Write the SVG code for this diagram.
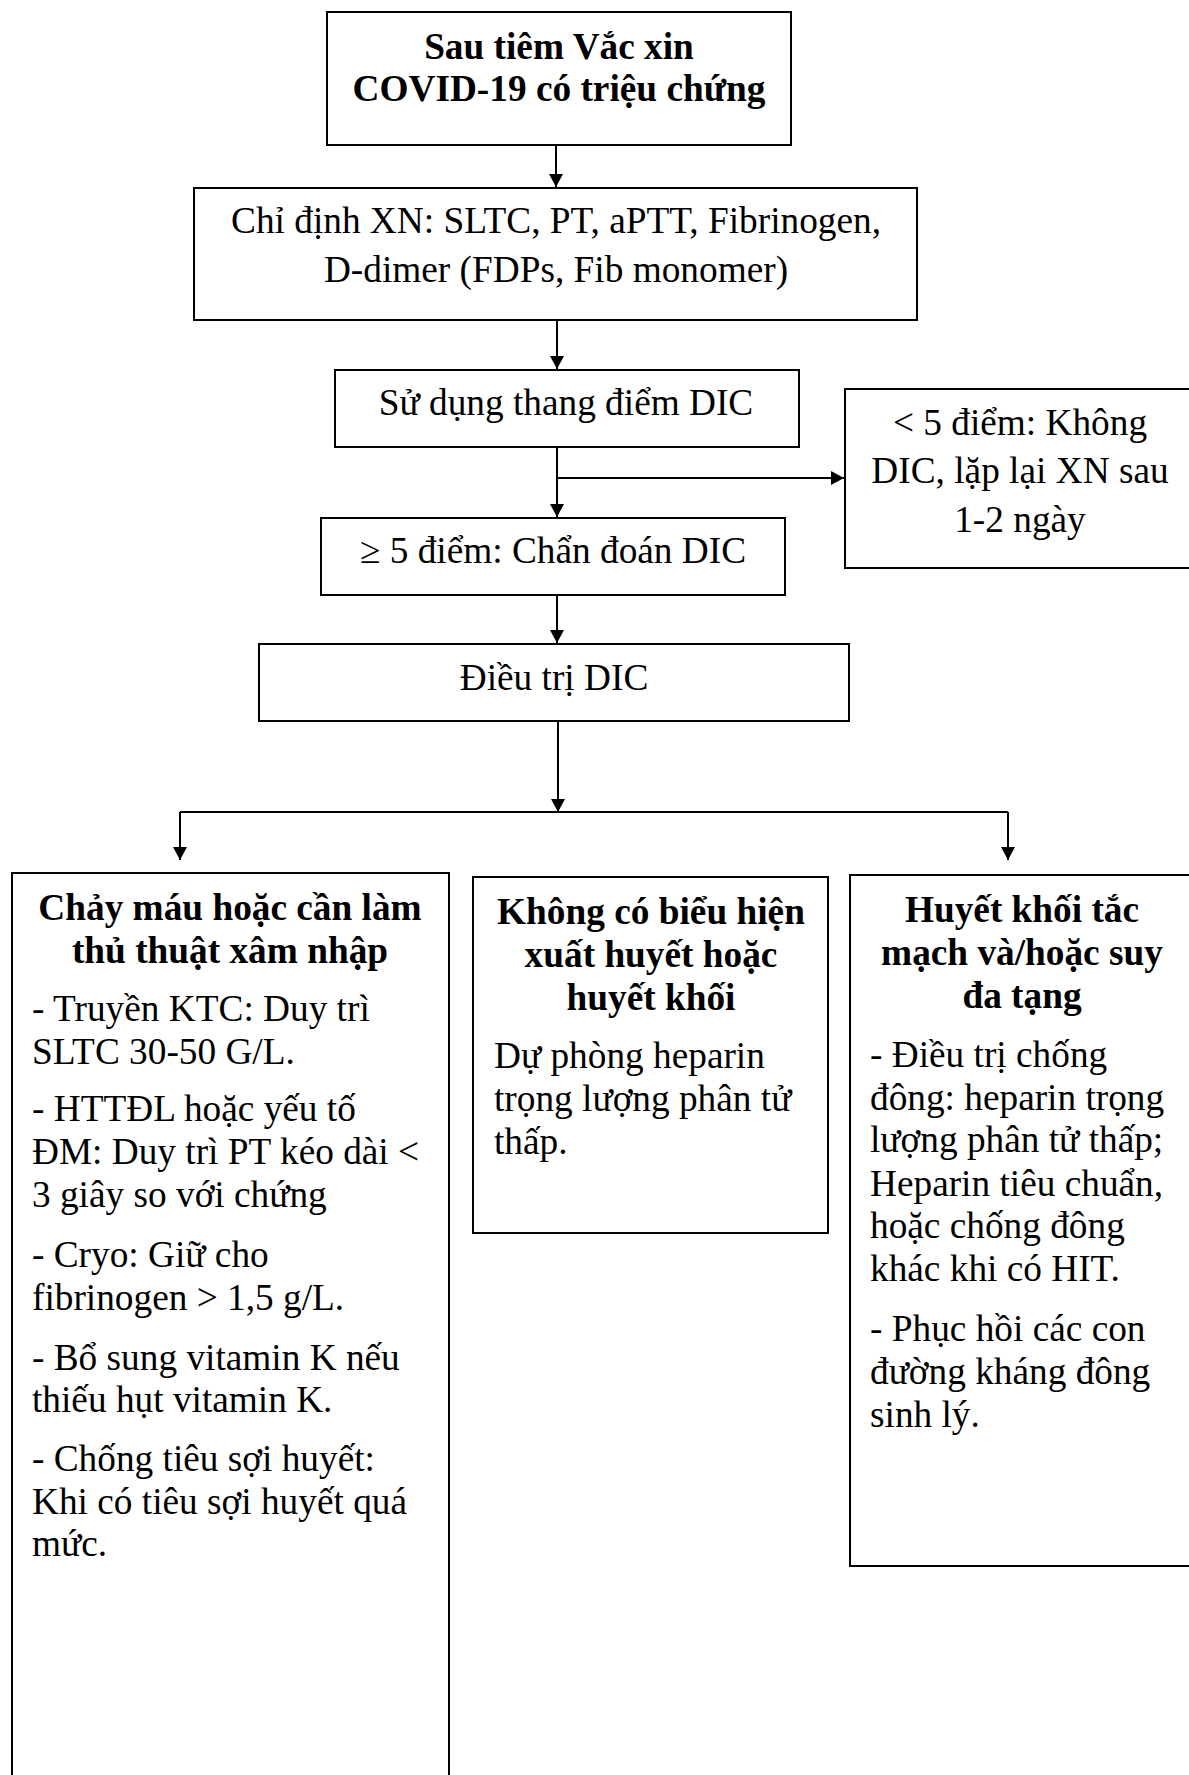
<svg xmlns="http://www.w3.org/2000/svg" width="1189" height="1775" viewBox="0 0 1189 1775">
<style>
.box{fill:#fff;stroke:#000;stroke-width:2}
text{font-family:"Liberation Serif","Times New Roman",serif;font-size:37.3px;fill:#000}
.b{font-weight:bold}
.c{text-anchor:middle}
.ln{fill:none;stroke:#000;stroke-width:2}
</style>
<defs>
<marker id="ah" markerUnits="userSpaceOnUse" markerWidth="14" markerHeight="14" refX="13" refY="7" orient="auto">
<path d="M0,0 L13,7 L0,14 z" fill="#000"/>
</marker>
</defs>
<rect width="1189" height="1775" fill="#fff"/>
<g id="connectors">
<line class="ln" x1="556" y1="145" x2="556" y2="187" marker-end="url(#ah)"/>
<line class="ln" x1="557" y1="320" x2="557" y2="369" marker-end="url(#ah)"/>
<line class="ln" x1="557" y1="447" x2="557" y2="517" marker-end="url(#ah)"/>
<line class="ln" x1="557" y1="478" x2="844" y2="478" marker-end="url(#ah)"/>
<line class="ln" x1="557" y1="595" x2="557" y2="643" marker-end="url(#ah)"/>
<line class="ln" x1="558" y1="721" x2="558" y2="812" marker-end="url(#ah)"/>
<line class="ln" x1="180" y1="812" x2="1008" y2="812"/>
<line class="ln" x1="180" y1="812" x2="180" y2="860" marker-end="url(#ah)"/>
<line class="ln" x1="1008" y1="812" x2="1008" y2="860" marker-end="url(#ah)"/>
</g>
<g id="n1">
<rect class="box" x="327" y="12" width="464" height="133"/>
<text class="b c" x="559" y="59">Sau tiêm Vắc xin</text>
<text class="b c" x="559" y="101">COVID-19 có triệu chứng</text>
</g>
<g id="n2">
<rect class="box" x="194" y="188" width="723" height="132"/>
<text class="c" x="556" y="233">Chỉ định XN: SLTC, PT, aPTT, Fibrinogen,</text>
<text class="c" x="556" y="282">D-dimer (FDPs, Fib monomer)</text>
</g>
<g id="n3">
<rect class="box" x="335" y="370" width="464" height="77"/>
<text class="c" x="566" y="415">Sử dụng thang điểm DIC</text>
</g>
<g id="n4">
<rect class="box" x="845" y="389" width="355" height="179"/>
<text class="c" x="1020" y="435">&lt; 5 điểm: Không</text>
<text class="c" x="1020" y="483">DIC, lặp lại XN sau</text>
<text class="c" x="1020" y="532">1-2 ngày</text>
</g>
<g id="n5">
<rect class="box" x="321" y="518" width="464" height="77"/>
<text class="c" x="553" y="563">≥ 5 điểm: Chẩn đoán DIC</text>
</g>
<g id="n6">
<rect class="box" x="259" y="644" width="590" height="77"/>
<text class="c" x="554" y="690">Điều trị DIC</text>
</g>
<g id="n7">
<rect class="box" x="12" y="873" width="437" height="940"/>
<text class="b c" x="230" y="920">Chảy máu hoặc cần làm</text>
<text class="b c" x="230" y="963">thủ thuật xâm nhập</text>
<text x="32" y="1021">- Truyền KTC: Duy trì</text>
<text x="32" y="1064">SLTC 30-50 G/L.</text>
<text x="32" y="1121">- HTTĐL hoặc yếu tố</text>
<text x="32" y="1164">ĐM: Duy trì PT kéo dài &lt;</text>
<text x="32" y="1207">3 giây so với chứng</text>
<text x="32" y="1267">- Cryo: Giữ cho</text>
<text x="32" y="1310">fibrinogen &gt; 1,5 g/L.</text>
<text x="32" y="1370">- Bổ sung vitamin K nếu</text>
<text x="32" y="1412">thiếu hụt vitamin K.</text>
<text x="32" y="1471">- Chống tiêu sợi huyết:</text>
<text x="32" y="1514">Khi có tiêu sợi huyết quá</text>
<text x="32" y="1556">mức.</text>
</g>
<g id="n8">
<rect class="box" x="473" y="877" width="355" height="356"/>
<text class="b c" x="651" y="924">Không có biểu hiện</text>
<text class="b c" x="651" y="967">xuất huyết hoặc</text>
<text class="b c" x="651" y="1010">huyết khối</text>
<text x="494" y="1068">Dự phòng heparin</text>
<text x="494" y="1111">trọng lượng phân tử</text>
<text x="494" y="1154">thấp.</text>
</g>
<g id="n9">
<rect class="box" x="850" y="875" width="350" height="691"/>
<text class="b c" x="1022" y="922">Huyết khối tắc</text>
<text class="b c" x="1022" y="965">mạch và/hoặc suy</text>
<text class="b c" x="1022" y="1008">đa tạng</text>
<text x="870" y="1067">- Điều trị chống</text>
<text x="870" y="1110">đông: heparin trọng</text>
<text x="870" y="1152">lượng phân tử thấp;</text>
<text x="870" y="1196">Heparin tiêu chuẩn,</text>
<text x="870" y="1238">hoặc chống đông</text>
<text x="870" y="1281">khác khi có HIT.</text>
<text x="870" y="1341">- Phục hồi các con</text>
<text x="870" y="1384">đường kháng đông</text>
<text x="870" y="1427">sinh lý.</text>
</g>
</svg>
